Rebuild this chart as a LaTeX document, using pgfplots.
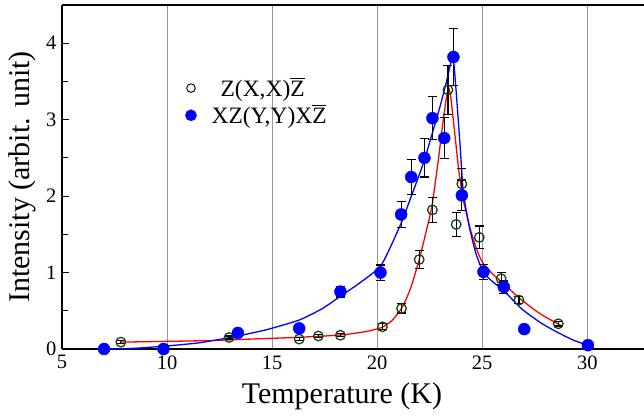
\documentclass[border=0pt]{standalone}
\usepackage{fontspec}
\setmainfont{Liberation Serif}
\usepackage{pgfplots}
\pgfplotsset{compat=1.18}

\definecolor{ptgreen}{RGB}{20,70,20}
\definecolor{gridgray}{RGB}{150,150,150}

% Z with an overbar
\newcommand{\zbar}{\leavevmode\rlap{\rule[0.74em]{0.6em}{0.055em}}Z}

\begin{document}
\begin{tikzpicture}
\useasboundingbox (0,0) rectangle (644pt,417pt);
\begin{axis}[
  at={(62pt,68pt)}, anchor=south west,
  scale only axis, width=582pt, height=344pt,
  xmin=5, xmax=32.7, ymin=0, ymax=4.5,
  axis x line=box, axis y line*=left,
  axis line style={line width=1.6pt, black},
  xtick={5,10,15,20,25,30},
  xticklabels={5,10,15,20,25,30},
  ytick={0,1,2,3,4},
  yticklabels={0,1,2,3,4},
  minor ytick={0.5,1.5,2.5,3.5},
  tick align=inside,
  major tick length=7pt, minor tick length=6pt,
  x tick style={draw=none},
  y tick style={line width=0.8pt, black},
  xmajorgrids,
  grid style={gridgray, line width=0.8pt},
  tick label style={font=\fontsize{20.5}{24}\selectfont},
  yticklabel style={xshift=-2pt},
  xticklabel style={yshift=-3pt},
  xlabel={Temperature (K)},
  ylabel={Intensity (arbit. unit)},
  label style={font=\fontsize{30}{34}\selectfont},
  xlabel style={at={(axis description cs:0.481,-0.137)}, anchor=center},
  ylabel style={at={(axis description cs:-0.068,0.5)}, anchor=center},
  legend style={draw=none, fill=none, at={(axis cs:10.72,3.235)}, anchor=west,
    font=\fontsize{23.5}{27}\selectfont, row sep=3pt},
  legend cell align=left,
  clip=false,
]
\addlegendimage{only marks, mark=o, black, mark size=4.3pt, line width=0.9pt}
\addlegendentry{\hspace{22pt}Z(X,X)\zbar}
\addlegendimage{only marks, mark=*, blue, mark size=5.6pt}
\addlegendentry{\hspace{13pt}XZ(Y,Y)X\zbar}

% fitted curve through the Z(X,X)Z-bar data
\addplot[red, line width=1.3pt, smooth, tension=0.35, forget plot] coordinates {
 (7.8,0.09) (10,0.10) (12,0.11) (14,0.13) (16,0.15) (17.5,0.17) (18.5,0.19)
 (19.5,0.23) (20.2,0.28) (20.7,0.37) (21.2,0.55) (21.6,0.80) (22.0,1.17)
 (22.3,1.50) (22.6,1.86) (22.9,2.45) (23.1,2.90) (23.3,3.30) (23.4,3.42)
 (23.5,3.30) (23.7,2.80) (23.9,2.30) (24.1,1.95) (24.4,1.60) (24.7,1.33)
 (25.0,1.14) (25.5,0.98) (26.0,0.86) (26.75,0.67) (27.5,0.51) (28.0,0.42)
 (28.8,0.30)
};
% fitted curve through the XZ(Y,Y)XZ-bar data
\addplot[blue, line width=1.3pt, smooth, tension=0.35, forget plot] coordinates {
 (7.0,0.00) (8.5,0.01) (10,0.04) (11.5,0.08) (13,0.15) (14.7,0.25) (16.3,0.38)
 (17.4,0.53) (18.3,0.70) (19.2,0.87) (20.2,1.10) (21.1,1.62) (21.6,1.98)
 (22.2,2.43) (22.6,2.80) (23.0,3.18) (23.3,3.50) (23.6,3.82) (23.75,3.40)
 (23.95,2.65) (24.1,2.05) (24.4,1.58) (24.7,1.25) (25.06,1.00) (25.5,0.88)
 (26.0,0.77) (26.9,0.52) (27.8,0.34) (28.5,0.23) (29.3,0.12) (30.0,0.05)
};

% Z(X,X)Z-bar data
\addplot[forget plot, only marks, mark=o, ptgreen, mark size=4.8pt, mark options={line width=1.3pt},
  error bars/.cd, y dir=both, y explicit,
  error bar style={black, line width=1.2pt},
  error mark options={rotate=90, black, mark size=4.5pt, line width=1.2pt}] coordinates {
 (7.8,0.09) +- (0,0.02)
 (12.95,0.15) +- (0,0.02)
 (16.29,0.13) +- (0,0.02)
 (17.2,0.17) +- (0,0.02)
 (18.25,0.18) +- (0,0.02)
 (20.25,0.29) +- (0,0.04)
 (21.16,0.53) +- (0,0.06)
 (22.0,1.17) +- (0,0.12)
 (22.63,1.82) +- (0,0.16)
 (23.37,3.39) +- (0,0.32)
 (23.76,1.63) +- (0,0.16)
 (24.03,2.16) +- (0,0.20)
 (24.86,1.46) +- (0,0.15)
 (25.9,0.92) +- (0,0.08)
 (26.75,0.64) +- (0,0.05)
 (28.62,0.33) +- (0,0.03)
};

% XZ(Y,Y)XZ-bar data with error bars
\addplot[forget plot, only marks, mark=*, blue, mark size=6pt,
  error bars/.cd, y dir=both, y explicit,
  error bar style={black, line width=1.2pt},
  error mark options={rotate=90, black, mark size=4.5pt, line width=1.2pt}] coordinates {
 (18.25,0.75) +- (0,0.07)
 (20.16,1.00) +- (0,0.10)
 (21.14,1.76) +- (0,0.17)
 (21.62,2.25) +- (0,0.23)
 (22.25,2.50) +- (0,0.25)
 (22.63,3.02) +- (0,0.28)
 (23.19,2.76) +- (0,0.27)
 (23.63,3.82) +- (0,0.37)
 (24.03,2.01) +- (0,0.20)
 (25.06,1.01) +- (0,0.10)
 (26.03,0.81) +- (0,0.08)
};
% XZ(Y,Y)XZ-bar data without visible error
\addplot[forget plot, only marks, mark=*, blue, mark size=6pt] coordinates {
 (7.0,0.00) (9.83,0.00) (13.37,0.21) (16.29,0.27) (27.0,0.26) (30.03,0.05)
};
\end{axis}
\end{tikzpicture}
\end{document}
